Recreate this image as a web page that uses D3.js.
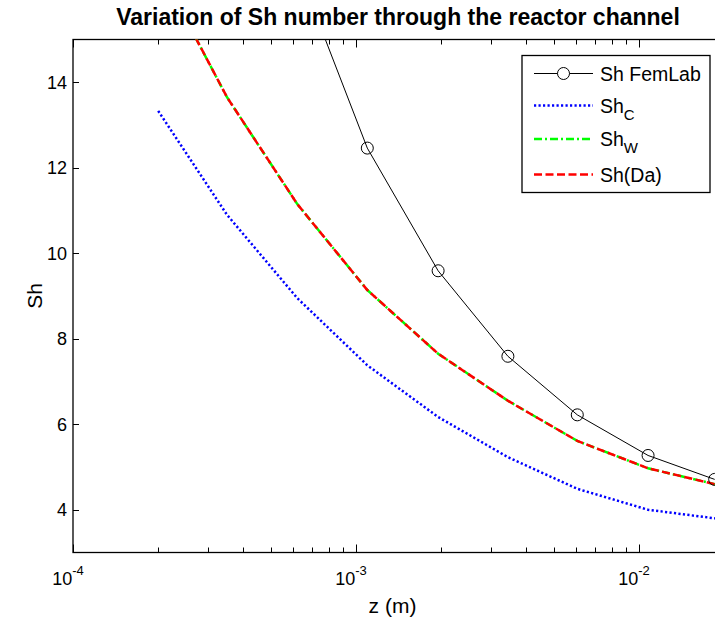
<!DOCTYPE html>
<html>
<head>
<meta charset="utf-8">
<script src="https://cdn.jsdelivr.net/npm/d3@7"></script>
<style>
	body { margin: 0; background: #fff; }
	text { font-family: "Liberation Sans", Arial, sans-serif; }
</style>
</head>
<body>
<div id="chart"></div>
<script>

// FemLab (numerical) points
var zFem = [6.2e-4, 1.096e-3, 1.95e-3, 3.44e-3, 6.05e-3, 1.076e-2, 1.85e-2];
var shFem = [16.7, 12.46, 9.59, 7.59, 6.22, 5.27, 4.71];

// correlations, same z grid
var zModel = [2.0e-4, 3.5e-4, 6.2e-4, 1.096e-3, 1.95e-3, 3.44e-3, 6.05e-3, 1.076e-2, 1.9e-2];
var shC  = [13.33, 10.9, 8.95, 7.38, 6.17, 5.23, 4.49, 4.00, 3.79];
var shW  = [16.7, 13.65, 11.15, 9.14, 7.65, 6.55, 5.61, 4.97, 4.58];
var shDa = [16.7, 13.65, 11.15, 9.14, 7.65, 6.55, 5.61, 4.97, 4.58];

var xTicks = [1e-4, 1e-3, 1e-2];
var xTickExp = ["-4", "-3", "-2"];
var yTicks = [4, 6, 8, 10, 12, 14];

function init(){

	var w = 715;
	var h = 621;
	var left = 73, right = 716, top = 39.5, bottom = 552.5;

	var xScale = d3.scaleLog()
					.domain([1e-4, 0.0187])
					.range([left, right]);

	var yScale = d3.scaleLinear()
					.domain([3, 15])
					.range([bottom, top]);

	var svg = d3.select("#chart")
				.append("svg")
				.attr("width", w)
				.attr("height", h);

	svg.append("defs").append("clipPath")
		.attr("id", "clip")
		.append("rect")
		.attr("x", left).attr("y", top)
		.attr("width", right - left).attr("height", bottom - top);

	// minor ticks for the log axis
	var minor = [];
	for (var e = -4; e <= -2; e++){
		for (var m = 2; m <= 9; m++){
			var v = m * Math.pow(10, e);
			if (v < 0.0187) minor.push(v);
		}
	}

	var ticks = svg.append("g").attr("stroke", "#000").attr("stroke-width", 1);

	ticks.selectAll("line.minb").data(minor).enter().append("line")
		.attr("x1", function(d){ return Math.round(xScale(d)) + 0.5; })
		.attr("x2", function(d){ return Math.round(xScale(d)) + 0.5; })
		.attr("y1", bottom).attr("y2", bottom - 5);
	ticks.selectAll("line.mint").data(minor).enter().append("line")
		.attr("x1", function(d){ return Math.round(xScale(d)) + 0.5; })
		.attr("x2", function(d){ return Math.round(xScale(d)) + 0.5; })
		.attr("y1", top).attr("y2", top + 5);
	ticks.selectAll("line.majb").data(xTicks).enter().append("line")
		.attr("x1", function(d){ return Math.round(xScale(d)) + 0.5; })
		.attr("x2", function(d){ return Math.round(xScale(d)) + 0.5; })
		.attr("y1", bottom).attr("y2", bottom - 8);
	ticks.selectAll("line.majt").data(xTicks).enter().append("line")
		.attr("x1", function(d){ return Math.round(xScale(d)) + 0.5; })
		.attr("x2", function(d){ return Math.round(xScale(d)) + 0.5; })
		.attr("y1", top).attr("y2", top + 8);
	ticks.selectAll("line.yt").data(yTicks).enter().append("line")
		.attr("x1", left).attr("x2", left + 6)
		.attr("y1", function(d){ return Math.round(yScale(d)) + 0.5; })
		.attr("y2", function(d){ return Math.round(yScale(d)) + 0.5; });

	// frame
	svg.append("rect")
		.attr("x", left).attr("y", top)
		.attr("width", right - left).attr("height", bottom - top)
		.attr("fill", "none")
		.attr("stroke", "#000")
		.attr("stroke-width", 1.3);

	// tick labels
	svg.selectAll("text.yl").data(yTicks).enter().append("text")
		.attr("x", left - 6)
		.attr("y", function(d){ return yScale(d) + 6.5; })
		.attr("text-anchor", "end")
		.attr("font-size", 18)
		.text(function(d){ return d; });

	var xl = svg.selectAll("text.xl").data(xTicks).enter().append("text")
		.attr("x", function(d){ return xScale(d) - 5; })
		.attr("y", 585)
		.attr("text-anchor", "middle")
		.attr("font-size", 18);
	xl.append("tspan").text("10");
	xl.append("tspan")
		.attr("font-size", 13)
		.attr("dy", -10)
		.text(function(d, i){ return xTickExp[i]; });

	// axis titles
	svg.append("text")
		.attr("x", (left + right) / 2 - 2)
		.attr("y", 613)
		.attr("text-anchor", "middle")
		.attr("font-size", 21)
		.text("z (m)");

	svg.append("text")
		.attr("transform", "translate(42," + ((top + bottom) / 2) + ") rotate(-90)")
		.attr("text-anchor", "middle")
		.attr("font-size", 21)
		.text("Sh");

	svg.append("text")
		.attr("x", 398)
		.attr("y", 25)
		.attr("text-anchor", "middle")
		.attr("font-size", 23)
		.attr("font-weight", "bold")
		.text("Variation of Sh number through the reactor channel");

	// curves
	var plot = svg.append("g").attr("clip-path", "url(#clip)");

	var line = d3.line()
				.x(function(d){ return xScale(d[0]); })
				.y(function(d){ return yScale(d[1]); });

	var fem = d3.zip(zFem, shFem);

	var series = [
		{ data: fem, color: "#000", width: 1, dash: null },
		{ data: d3.zip(zModel, shC), color: "#0000ff", width: 2.5, dash: "2.2,2.3" },
		{ data: d3.zip(zModel, shW), color: "#00ff00", width: 2.5, dash: "8,3,2,3" },
		{ data: d3.zip(zModel, shDa), color: "#ff0000", width: 2.5, dash: "8,3.5" }
	];

	plot.selectAll("path.curve").data(series).enter().append("path")
		.attr("d", function(d){ return line(d.data); })
		.attr("fill", "none")
		.attr("stroke", function(d){ return d.color; })
		.attr("stroke-width", function(d){ return d.width; })
		.attr("stroke-dasharray", function(d){ return d.dash; });

	plot.selectAll("circle")
		.data(fem)
		.enter()
		.append("circle")
		.attr("cx", function(d){ return xScale(d[0]); })
		.attr("cy", function(d){ return yScale(d[1]); })
		.attr("r", 6)
		.attr("fill", "none")
		.attr("stroke", "#000")
		.attr("stroke-width", 1);

	// legend
	var lg = svg.append("g");
	lg.append("rect")
		.attr("x", 522).attr("y", 55.5)
		.attr("width", 188).attr("height", 137)
		.attr("fill", "#fff")
		.attr("stroke", "#000")
		.attr("stroke-width", 1.3);

	var names = [["Sh FemLab", ""], ["Sh", "C"], ["Sh", "W"], ["Sh(Da)", ""]];
	var rowY = [73.5, 105.5, 139, 174.5];

	lg.selectAll("line.key").data(series).enter().append("line")
		.attr("x1", 534).attr("x2", 593)
		.attr("y1", function(d, i){ return rowY[i]; })
		.attr("y2", function(d, i){ return rowY[i]; })
		.attr("stroke", function(d){ return d.color; })
		.attr("stroke-width", function(d){ return d.width; })
		.attr("stroke-dasharray", function(d){ return d.dash; });

	lg.append("circle")
		.attr("cx", 563.5).attr("cy", rowY[0]).attr("r", 6)
		.attr("fill", "#fff").attr("stroke", "#000");

	var lt = lg.selectAll("text.key").data(names).enter().append("text")
		.attr("x", 600)
		.attr("y", function(d, i){ return rowY[i] + 7; })
		.attr("font-size", 19.5);
	lt.append("tspan").text(function(d){ return d[0]; });
	lt.append("tspan")
		.attr("font-size", 15)
		.attr("dy", 7)
		.text(function(d){ return d[1]; });

}

window.onload = init;
</script>
</body>
</html>
